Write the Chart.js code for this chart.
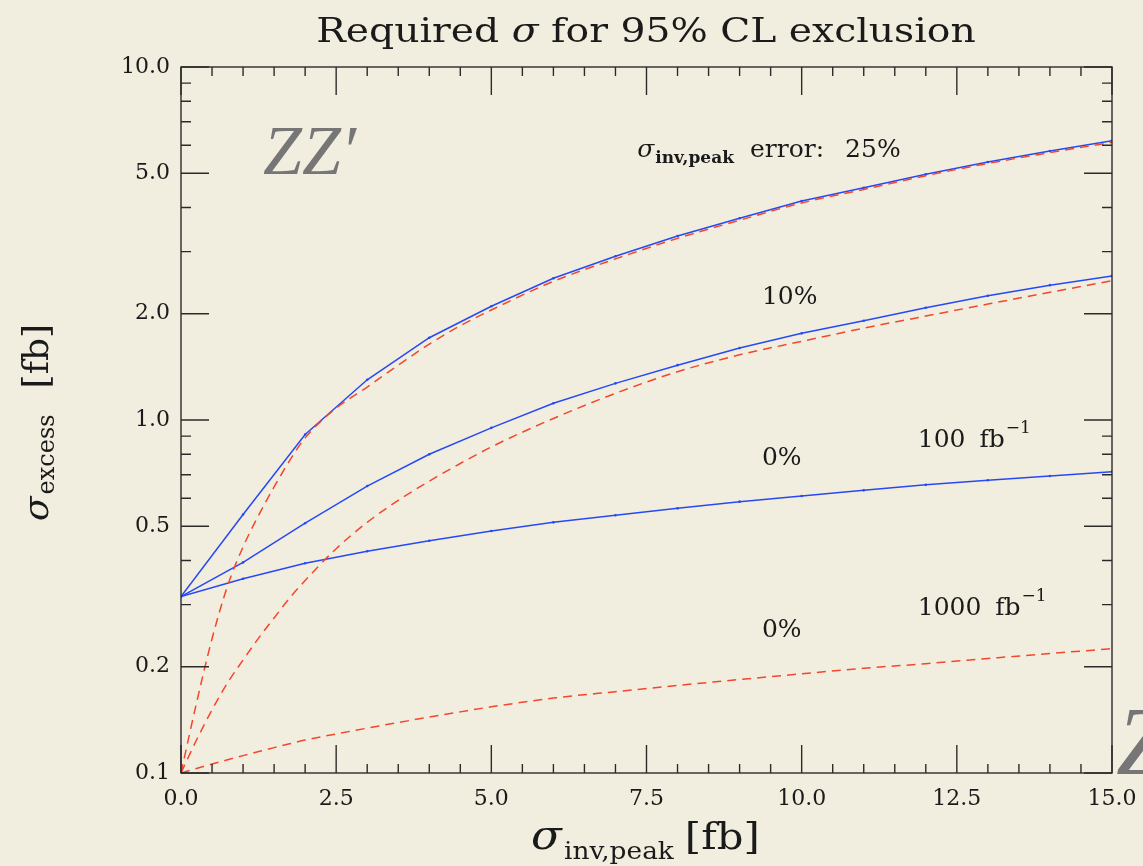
<!DOCTYPE html>
<html>
<head>
<meta charset="utf-8">
<script src="https://cdn.jsdelivr.net/npm/chart.js@4.4.1/dist/chart.umd.min.js"></script>
<style>
  html, body { margin: 0; padding: 0; background: #f2eedf; }
  #wrap { width: 1143px; height: 866px; }
</style>
</head>
<body>
<div id="wrap"><canvas id="myChart" width="1143" height="866"></canvas></div>
<script>
// sigma_inv,peak values where the 100 fb^-1 curves were computed
const xPeak = [0, 1, 2, 3, 4, 5, 6, 7, 8, 9, 10, 11, 12, 13, 14, 15];
// 100 fb^-1, peak error 25%, 10%, 0%
const blue25 = [0.316, 0.54, 0.91, 1.30, 1.71, 2.10, 2.52, 2.91, 3.32, 3.73, 4.17, 4.55, 4.97, 5.38, 5.78, 6.18];
const blue10 = [0.316, 0.395, 0.51, 0.65, 0.80, 0.95, 1.115, 1.27, 1.43, 1.60, 1.76, 1.91, 2.08, 2.25, 2.41, 2.56];
const blue0  = [0.316, 0.355, 0.393, 0.425, 0.455, 0.485, 0.513, 0.537, 0.562, 0.587, 0.609, 0.632, 0.655, 0.675, 0.694, 0.714];

// 1000 fb^-1 curves (dashed), finer steps near zero
const xFine = [0, 0.25, 0.5, 0.75, 1, 1.25, 1.5, 1.75, 2, 2.5, 3, 3.5, 4, 4.5, 5, 6, 7, 8, 9, 10, 11, 12, 13, 14, 15];
const red25 = [0.1, 0.158, 0.24, 0.339, 0.437, 0.537, 0.646, 0.767, 0.89, 1.08, 1.24, 1.43, 1.64, 1.85, 2.05, 2.47, 2.86, 3.27, 3.68, 4.12, 4.50, 4.92, 5.33, 5.72, 6.12];
const red10 = [0.1, 0.124, 0.151, 0.180, 0.209, 0.241, 0.275, 0.313, 0.351, 0.432, 0.513, 0.592, 0.671, 0.753, 0.839, 1.01, 1.19, 1.37, 1.53, 1.67, 1.82, 1.97, 2.13, 2.30, 2.48];
const red0  = [0.1, 0.103, 0.106, 0.109, 0.112, 0.115, 0.118, 0.121, 0.124, 0.129, 0.134, 0.139, 0.144, 0.149, 0.154, 0.163, 0.170, 0.177, 0.184, 0.191, 0.198, 0.204, 0.211, 0.218, 0.225];

const yLabels = [0.1, 0.2, 0.5, 1, 2, 5, 10];
const yMinor = [0.1, 0.2, 0.3, 0.4, 0.5, 0.6, 0.7, 0.8, 0.9, 1, 2, 3, 4, 5, 6, 7, 8, 9, 10];

const SERIF = "'DejaVu Serif', serif";
const BLUE = '#2749f4';
const RED = '#f4462c';

function pts(xs, ys) {
    return xs.map((x, i) => ({ x: x, y: ys[i] }));
}

function blueLine(data) {
    return {
        data: data,
        borderColor: BLUE,
        backgroundColor: BLUE,
        borderWidth: 1.5,
        pointRadius: 1.3,
        pointBorderWidth: 0,
        pointBackgroundColor: BLUE,
        tension: 0,
        fill: false
    };
}

function redLine(data) {
    return {
        data: data,
        borderColor: RED,
        borderWidth: 1.5,
        borderDash: [9, 6],
        pointRadius: 0,
        cubicInterpolationMode: 'monotone',
        fill: false
    };
}

// draws pieces of text one after another: [text, font, dy, gapAfter]
// sx stretches the whole run horizontally (the plot font is wide)
function drawRuns(ctx, x, y, runs, align, sx) {
    sx = sx || 1;
    let total = 0;
    runs.forEach(r => {
        ctx.font = r[1];
        r.w = ctx.measureText(r[0]).width;
        total += r.w + (r[3] || 0);
    });
    ctx.save();
    ctx.translate(align === 'center' ? x - total * sx / 2 : x, y);
    ctx.scale(sx, 1);
    let cx = 0;
    runs.forEach(r => {
        ctx.font = r[1];
        ctx.fillText(r[0], cx, r[2] || 0);
        cx += r.w + (r[3] || 0);
    });
    ctx.restore();
}

const frame = {
    id: 'frame',
    afterDraw(chart) {
        const ctx = chart.ctx;
        const a = chart.chartArea;
        const xs = chart.scales.x;
        const ys = chart.scales.y;
        ctx.save();
        ctx.strokeStyle = '#2b2b2b';
        ctx.lineWidth = 1.4;
        ctx.strokeRect(a.left, a.top, a.right - a.left, a.bottom - a.top);
        ctx.beginPath();
        for (let v = 0; v <= 15.001; v += 0.5) {
            const px = xs.getPixelForValue(v);
            const len = (Math.abs(v / 2.5 - Math.round(v / 2.5)) < 1e-6) ? 28 : 9;
            ctx.moveTo(px, a.bottom); ctx.lineTo(px, a.bottom - len);
            ctx.moveTo(px, a.top); ctx.lineTo(px, a.top + len);
        }
        yMinor.forEach(v => {
            const py = ys.getPixelForValue(v);
            const len = yLabels.includes(v) ? 28 : 10;
            ctx.moveTo(a.left, py); ctx.lineTo(a.left + len, py);
            ctx.moveTo(a.right, py); ctx.lineTo(a.right - len, py);
        });
        ctx.stroke();

        ctx.fillStyle = '#1a1a1a';
        ctx.textBaseline = 'alphabetic';
        // title
        drawRuns(ctx, 646, 42, [
            ['Required ', '34px ' + SERIF],
            ['σ', 'italic 34px ' + SERIF],
            [' for 95% CL exclusion', '34px ' + SERIF]
        ], 'center', 1.155);

        // x axis title
        drawRuns(ctx, 531, 849, [
            ['σ', 'italic 41px ' + SERIF, 0, 2],
            ['inv,peak', '24px ' + SERIF, 10, 10],
            ['[fb]', '38px ' + SERIF]
        ], 'left', 1.1);

        // y axis title
        ctx.save();
        ctx.translate(48, 521);
        ctx.rotate(-Math.PI / 2);
        drawRuns(ctx, 0, 0, [
            ['σ', 'italic 36px ' + SERIF, 0, 2],
            ['excess', '24px ' + SERIF, 6, 26],
            ['[fb]', '36px ' + SERIF]
        ]);
        ctx.restore();

        // curve annotations
        drawRuns(ctx, xs.getPixelForValue(7.35), 157, [
            ['σ', 'italic 25px ' + SERIF, 0, 1],
            ['inv,peak', 'bold 17px ' + SERIF, 6, 16],
            ['error:', '25px ' + SERIF, 0, 21],
            ['25%', '25px ' + SERIF]
        ]);
        ctx.font = '25px ' + SERIF;
        ctx.fillText('10%', xs.getPixelForValue(9.36), 304);
        ctx.fillText('0%', xs.getPixelForValue(9.36), 465);
        ctx.fillText('0%', xs.getPixelForValue(9.36), 637);
        drawRuns(ctx, xs.getPixelForValue(11.87), 447, [
            ['100', '25px ' + SERIF, 0, 14],
            ['fb', '25px ' + SERIF, 0, 1],
            ['−1', '17px ' + SERIF, -14]
        ]);
        drawRuns(ctx, xs.getPixelForValue(11.87), 615, [
            ['1000', '25px ' + SERIF, 0, 14],
            ['fb', '25px ' + SERIF, 0, 1],
            ['−1', '17px ' + SERIF, -14]
        ]);

        // process labels
        ctx.fillStyle = '#767676';
        ctx.font = "italic 70px 'Liberation Serif', serif";
        ctx.fillText('ZZ′', 263, 174);
        ctx.font = "italic 98px 'Liberation Serif', serif";
        ctx.fillText('Z', 1116, 774);
        ctx.restore();
    }
};

new Chart('myChart', {
    type: 'line',
    data: {
        datasets: [
            redLine(pts(xFine, red25)),
            redLine(pts(xFine, red10)),
            redLine(pts(xFine, red0)),
            blueLine(pts(xPeak, blue25)),
            blueLine(pts(xPeak, blue10)),
            blueLine(pts(xPeak, blue0))
        ]
    },
    options: {
        responsive: false,
        animation: false,
        layout: { padding: { top: 67, right: 31, left: 0, bottom: 0 } },
        plugins: {
            legend: { display: false },
            tooltip: { enabled: false }
        },
        scales: {
            x: {
                type: 'linear',
                min: 0,
                max: 15,
                grid: { display: false, drawTicks: false },
                border: { display: false },
                ticks: {
                    stepSize: 2.5,
                    padding: 13,
                    color: '#1a1a1a',
                    font: { family: SERIF, size: 22 },
                    maxRotation: 0,
                    callback: v => Number(v).toFixed(1)
                },
                afterFit: s => { s.height = 93; s.paddingLeft = 0; s.paddingRight = 0; }
            },
            y: {
                type: 'logarithmic',
                min: 0.1,
                max: 10,
                grid: { display: false, drawTicks: false },
                border: { display: false },
                afterBuildTicks: s => { s.ticks = yLabels.map(v => ({ value: v })); },
                ticks: {
                    padding: 11,
                    color: '#1a1a1a',
                    font: { family: SERIF, size: 22 },
                    callback: v => Number(v).toFixed(1)
                },
                afterFit: s => { s.width = 181; s.paddingTop = 0; s.paddingBottom = 0; }
            }
        }
    },
    plugins: [frame]
});
</script>
</body>
</html>
